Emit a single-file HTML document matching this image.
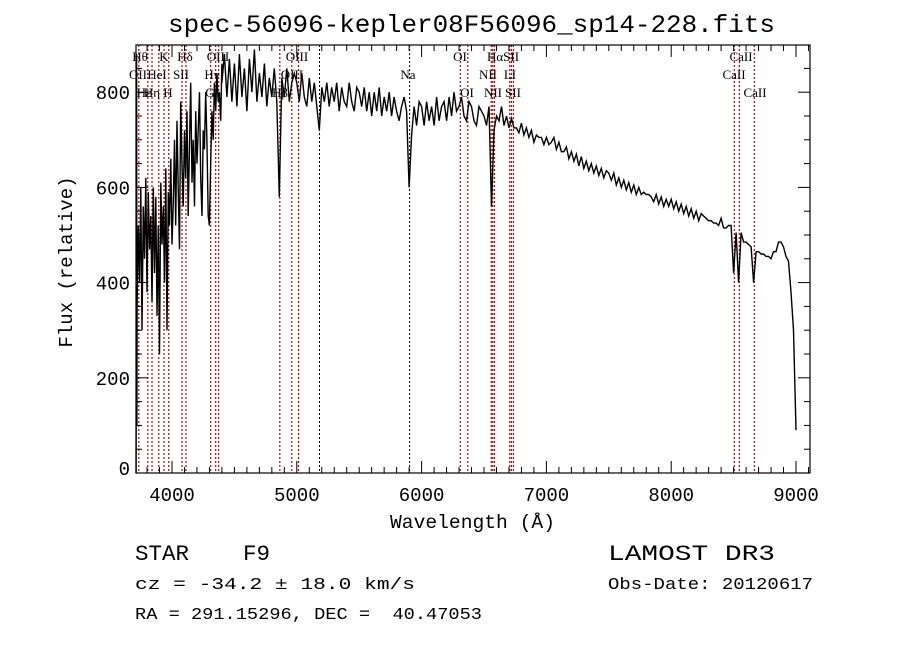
<!DOCTYPE html>
<html><head><meta charset="utf-8"><style>
body{margin:0;background:#fff;width:900px;height:649px;overflow:hidden}
svg{display:block}
.m{font-family:"Liberation Mono",monospace;white-space:pre}
.s{font-family:"Liberation Serif",serif;font-size:13px}
</style></head><body>
<svg id="c" width="900" height="649" xml:space="preserve">
<text class="m" x="168" y="32" font-size="25" textLength="607" lengthAdjust="spacingAndGlyphs">spec-56096-kepler08F56096_sp14-228.fits</text>
<text class="m" x="0" y="0" font-size="19" text-anchor="middle" transform="translate(72,262) rotate(-90)">Flux (relative)</text>
<text class="m" x="390" y="528" font-size="19" textLength="165" lengthAdjust="spacingAndGlyphs">Wavelength (Å)</text>
<text class="m" x="135" y="560" font-size="22" textLength="135" lengthAdjust="spacingAndGlyphs">STAR    F9</text>
<text class="m" x="135" y="589" font-size="17" textLength="280" lengthAdjust="spacingAndGlyphs">cz = -34.2 ± 18.0 km/s</text>
<text class="m" x="135" y="619" font-size="17" textLength="347" lengthAdjust="spacingAndGlyphs">RA = 291.15296, DEC =  40.47053</text>
<text class="m" x="608" y="560" font-size="22" textLength="167" lengthAdjust="spacingAndGlyphs">LAMOST DR3</text>
<text class="m" x="608" y="589" font-size="17" textLength="205" lengthAdjust="spacingAndGlyphs">Obs-Date: 20120617</text>
<g id="lines"></g><g id="labels"></g><g id="ticks"></g>
<rect x="136" y="45" width="674" height="428" fill="none" stroke="#000" stroke-width="1.2"/>
<g id="spec"></g>
</svg>
<script>
const xTicks=[4000,5000,6000,7000,8000,9000];
const yTicks=[0,200,400,600,800];
const redLines=[3734,3806,3840,3894,3936,3974,4080,4112,4310,4350,4374,4864,4960,5014,6310,6370,6558,6570,6584,6706,6720,6736,8506,8546,8666];
const blackLines=[5182,5904];
const lineLabels=[["Hθ",140,57],["K",164,57],["Hδ",185,57],["OIII",218,57],["OIII",297,57],["OI",460,57],["HαSII",503,57],["CaII",741,57],
["OII",138,75],["HeI",157,75],["SII",181,75],["Hγ",212,75],["OIII",292,75],["Na",408,75],["NII",488,75],["LI",510,75],["CaII",734,75],
["Hε",144,93],["Hη",152,93],["H",168,93],["G",210,93],["Hβ",280,93],["OI",467,93],["NII",493,93],["SII",513,93],["CaII",755,93]];
const blueFlux=[350,520,400,600,300,560,450,620,380,590,470,540,360,600,420,580,330,520,250,610,480,560,400,640,300,590,520,660,480,
560,700,520,740,600,470,780,650,560,720,620,760,540,690,820,610,700,560,760,650,720,800,620,540,720,680,800,700,540,520,650,760,700,820,760,840,780,800,740,860];
const redFlux=[820,880,790,870,780,
860,770,880,790,850,760,870,800,890,780,840,790,860,770,830,790,850,780,580,830,790,850,780,820,840,
820,780,840,790,770,830,780,820,770,720,810,780,820,770,810,780,820,760,810,780,770,820,780,760,810,
800,770,810,760,800,750,800,760,810,750,790,760,800,750,790,760,740,770,790,760,600,710,770,730,780,
770,730,780,740,770,730,790,740,770,780,740,790,750,800,760,770,790,750,740,780,770,740,730,770,760,
750,730,770,560,720,750,740,770,730,750,725,745,725,725,715,735,710,725,705,720,695,710,705,705,690,
705,690,695,705,680,695,675,675,685,660,675,655,670,645,665,640,655,635,650,630,645,625,640,620,635,
630,615,630,605,620,600,615,595,610,590,605,585,600,585,590,585,585,580,570,585,565,580,560,575,560,
575,555,570,550,565,545,560,540,555,535,550,530,545,540,535,530,530,525,525,520,535,515,515,520,520,
420,505,400,505,485,485,480,475,400,465,465,460,460,455,455,450,465,465,485,485,475,455,445,380,300,90];
const NS="http://www.w3.org/2000/svg";
const X=w=>172+(w-4000)*0.1248, Y=v=>473-v*0.476;
function mk(t,a,p){const e=document.createElementNS(NS,t);for(const k in a)e.setAttribute(k,a[k]);p.appendChild(e);return e;}
const L=document.getElementById('lines'),T=document.getElementById('ticks'),LB=document.getElementById('labels'),S=document.getElementById('spec');
redLines.forEach(w=>{const e=mk('line',{x1:X(w),x2:X(w),y1:45,y2:473,stroke:'#c00000','stroke-width':1.2,'stroke-dasharray':'2,2'},L);

});
blackLines.forEach(w=>{const e=mk('line',{x1:X(w),x2:X(w),y1:45,y2:473,stroke:'#000','stroke-width':1,'stroke-dasharray':'2,2'},L);

});
lineLabels.forEach(l=>{const e=mk('text',{x:l[1],y:l[2]+4,'text-anchor':'middle',class:'s'},LB);e.textContent=l[0];

});
for(let w=3800;w<=9100;w+=100){const maj=w%1000===0;
mk('line',{x1:X(w),x2:X(w),y1:473,y2:473-(maj?12:6),stroke:'#000'},T);
mk('line',{x1:X(w),x2:X(w),y1:45,y2:45+(maj?12:6),stroke:'#000'},T);}
xTicks.forEach(w=>{const e=mk('text',{x:X(w),y:501,'text-anchor':'middle',class:'m','font-size':19},T);e.textContent=w;

});
for(let v=0;v<=850;v+=50){const maj=v%200===0;
mk('line',{x1:136,x2:136+(maj?12:6),y1:Y(v),y2:Y(v),stroke:'#000'},T);
mk('line',{x1:810,x2:810-(maj?12:6),y1:Y(v),y2:Y(v),stroke:'#000'},T);}
yTicks.forEach(v=>{const e=mk('text',{x:130,y:Y(v)+7-(v===0?5:0),'text-anchor':'end',class:'m','font-size':19},T);e.textContent=v;

});
let pts=[[3712,0],[3716,880],[3719,100]];
blueFlux.forEach((f,i)=>pts.push([3720+i*10,f]));
redFlux.forEach((f,i)=>pts.push([4400+i*20,f]));
const pl=mk('polyline',{points:pts.map(p=>X(p[0]).toFixed(1)+','+Y(p[1]).toFixed(1)).join(' '),fill:'none',stroke:'#000','stroke-width':1.4},S);


</script>
</body></html>
